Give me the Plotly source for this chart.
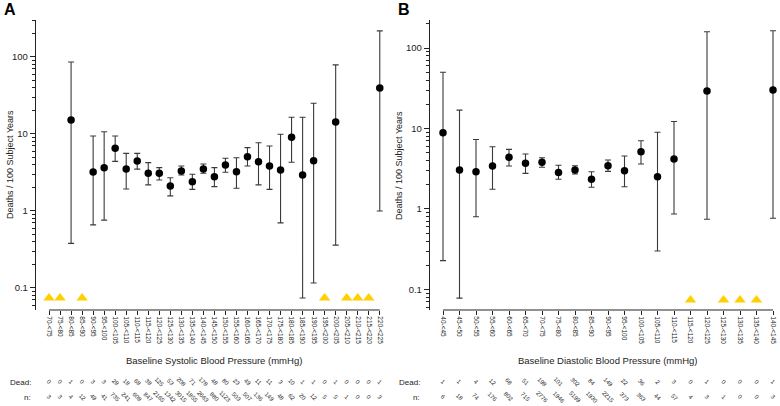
import plotly.graph_objects as go

# ---------------- data ----------------
cats_A = ["70-<75", "75-<80", "80-<85", "85-<90", "90-<95", "95-<100", "100-<105", "105-<110",
          "110-<115", "115-<120", "120-<125", "125-<130", "130-<135", "135-<140", "140-<145",
          "145-<150", "150-<155", "155-<160", "160-<165", "165-<170", "170-<175", "175-<180",
          "180-<185", "185-<190", "190-<195", "195-<200", "200-<205", "205-<210", "210-<215",
          "215-<220", "220-<225"]
dead_A = [0, 0, 1, 0, 3, 3, 28, 18, 68, 38, 125, 53, 208, 71, 178, 48, 80, 23, 49, 11, 11, 3, 10,
          1, 1, 0, 1, 0, 0, 0, 1]
n_A = [3, 3, 4, 12, 49, 41, 735, 241, 608, 847, 2165, 1342, 3015, 1855, 2663, 880, 1123, 503, 507,
       136, 149, 48, 62, 20, 12, 5, 5, 1, 0, 0, 3]
rate_A = [None, None, 15.2, None, 3.2, 3.65, 6.5, 3.5, 4.45, 3.09, 3.09, 2.11, 3.3, 2.4, 3.51, 2.79,
          3.96, 3.24, 5.07, 4.37, 3.84, 3.4, 9.06, 2.93, 4.5, None, 14.3, None, None, None, 39.6]
lo_A = [None, None, 0.38, None, 0.66, 0.76, 4.4, 1.93, 3.5, 2.18, 2.53, 1.57, 2.93, 1.91, 3.09, 2.07,
        3.18, 1.97, 3.84, 2.18, 1.91, 0.70, 4.29, 0.074, 0.116, None, 0.36, None, None, None, 1.0]
hi_A = [None, None, 86, None, 9.4, 10.7, 9.4, 5.6, 5.6, 4.24, 3.65, 2.7, 3.84, 3.0, 4.07, 3.65,
        4.83, 4.9, 6.64, 7.7, 6.98, 9.9, 16.5, 16.5, 25, None, 79, None, None, None, 218]

cats_B = ["40-<45", "45-<50", "50-<55", "55-<60", "60-<65", "65-<70", "70-<75", "75-<80", "80-<85",
          "85-<90", "90-<95", "95-<100", "100-<105", "105-<110", "110-<115", "115-<120", "120-<125",
          "125-<130", "130-<135", "135-<140", "140-<145"]
dead_B = [1, 1, 4, 12, 68, 51, 198, 101, 302, 84, 149, 22, 36, 2, 3, 0, 1, 0, 0, 0, 1]
n_B = [6, 18, 74, 176, 802, 715, 2776, 1946, 5199, 1930, 2215, 373, 363, 44, 57, 4, 3, 1, 0, 0, 3]
rate_B = [8.87, 3.05, 2.9, 3.42, 4.39, 3.7, 3.8, 2.85, 3.05, 2.34, 3.45, 2.99, 5.15, 2.52, 4.18,
          None, 29.2, None, None, None, 30.0]
lo_B = [0.228, 0.078, 0.80, 1.76, 3.42, 2.77, 3.3, 2.34, 2.72, 1.86, 2.93, 1.89, 3.62, 0.30, 0.867,
        None, 0.745, None, None, None, 0.766]
hi_B = [49.9, 16.9, 7.3, 5.94, 5.5, 4.82, 4.34, 3.49, 3.45, 2.9, 4.06, 4.55, 7.05, 8.97, 12.2,
        None, 159, None, None, None, 164]

ZERO_DEATH_MARK = 0.074  # value at which zero-death categories are flagged

y_major = [0.1, 1, 10, 100]
y_major_text = ["0.1", "1", "10", "100"]
y_minor = [m * 10 ** e for e in range(-2, 3) for m in range(2, 10)]

title_A = "Baseline Systolic Blood Pressure (mmHg)"
title_B = "Baseline Diastolic Blood Pressure (mmHg)"
ytitle = "Deaths / 100 Subject Years"

# ---------------- layout helpers ----------------
W, H = 780, 406
FONT = "Liberation Sans, Arial, Helvetica, sans-serif"
INK = "#222222"
BAR = "#3a3a3a"
GOLD = "#FFD000"


def px(x):
    return x / W


def py(y):
    return 1 - y / H


fig = go.Figure()

panels = [
    dict(cats=cats_A, dead=dead_A, n=n_A, rate=rate_A, lo=lo_A, hi=hi_A, xa="x", ya="y",
         xdom=[35.8, 393.0], xrange=[-1.2, 31.2], yrange=[-1.286, 2.48],
         title=title_A, title_x=214, label="A", label_x=2, ytitle_x=10, dead_x=33),
    dict(cats=cats_B, dead=dead_B, n=n_B, rate=rate_B, lo=lo_B, hi=hi_B, xa="x2", ya="y2",
         xdom=[429.8, 780.0], xrange=[-0.8, -0.8 + (780 - 429.8) / 16.5], yrange=[-1.255, 2.348],
         title=title_B, title_x=608, label="B", label_x=396, ytitle_x=399, dead_x=422),
]

annotations = []
shapes = []
for i, p in enumerate(panels):
    idx = [k for k, r in enumerate(p["rate"]) if r is not None]
    ys = [p["rate"][k] for k in idx]
    plus = [p["hi"][k] - p["rate"][k] for k in idx]
    minus = [p["rate"][k] - p["lo"][k] for k in idx]
    fig.add_trace(go.Scatter(
        x=idx, y=ys, mode="markers", xaxis=p["xa"], yaxis=p["ya"],
        marker=dict(color="black", size=7.5),
        error_y=dict(type="data", symmetric=False, array=plus, arrayminus=minus,
                     color=BAR, thickness=1.1, width=3),
        showlegend=False, cliponaxis=False, hoverinfo="skip"))
    zero_idx = [k for k, d in enumerate(p["dead"]) if d == 0]
    fig.add_trace(go.Scatter(
        x=zero_idx, y=[ZERO_DEATH_MARK] * len(zero_idx), mode="markers",
        xaxis=p["xa"], yaxis=p["ya"],
        marker=dict(symbol="triangle-up", color=GOLD, size=10, line=dict(width=0)),
        showlegend=False, cliponaxis=False, hoverinfo="skip"))

    sfx = "" if i == 0 else "2"
    fig.update_layout(**{
        "xaxis" + sfx: dict(
            domain=[px(p["xdom"][0]), px(p["xdom"][1])], range=p["xrange"],
            anchor="y" + sfx, tickmode="array", tickvals=list(range(len(p["cats"]))),
            ticktext=[c.replace("<", "&lt;") for c in p["cats"]],
            tickangle=90, ticks="outside", ticklen=4, tickcolor=INK, tickwidth=1,
            showline=False, showgrid=False, zeroline=False,
            tickfont=dict(family=FONT, size=6.5, color=INK)),
        "yaxis" + sfx: dict(
            domain=[py(310), py(20)], type="log", range=p["yrange"],
            anchor="x" + sfx, tickmode="array", tickvals=y_major, ticktext=y_major_text,
            ticks="outside", ticklen=5, tickcolor=INK, tickwidth=1,
            minor=dict(tickmode="array", tickvals=y_minor, ticks="outside", ticklen=2.5,
                       tickcolor=INK, tickwidth=1, showgrid=False),
            showline=True, linecolor=INK, linewidth=1, showgrid=False, zeroline=False,
            tickfont=dict(family=FONT, size=9.5, color=INK)),
    })
    shapes.append(dict(type="line", xref=p["xa"], yref=p["ya"] + " domain",
                       x0=0, x1=len(p["cats"]) - 1, y0=0, y1=0,
                       line=dict(color=INK, width=1)))
    annotations.append(dict(text=p["title"], xref="paper", yref="paper",
                            x=px(p["title_x"]), y=py(360),
                            showarrow=False, xanchor="center", yanchor="middle",
                            font=dict(family=FONT, size=9.5, color=INK)))
    annotations.append(dict(text=ytitle, xref="paper", yref="paper",
                            x=px(p["ytitle_x"]), y=py(165), textangle=-90,
                            showarrow=False, xanchor="center", yanchor="middle",
                            font=dict(family=FONT, size=9, color=INK)))
    annotations.append(dict(text="<b>" + p["label"] + "</b>", xref="paper", yref="paper",
                            x=px(p["label_x"]), y=py(-1), showarrow=False,
                            xanchor="left", yanchor="top",
                            font=dict(family=FONT, size=16, color="black")))
    annotations.append(dict(text="Dead:", xref="paper", yref="paper", x=px(p["dead_x"]),
                            y=py(382), showarrow=False, xanchor="right", yanchor="middle",
                            font=dict(family=FONT, size=8, color=INK)))
    annotations.append(dict(text="n:", xref="paper", yref="paper", x=px(p["dead_x"]),
                            y=py(397), showarrow=False, xanchor="right", yanchor="middle",
                            font=dict(family=FONT, size=8, color=INK)))
    for k, (d, nn) in enumerate(zip(p["dead"], p["n"])):
        annotations.append(dict(text=str(d), xref=p["xa"], yref="paper", x=k, y=py(382),
                                textangle=45, showarrow=False, xanchor="center", yanchor="middle",
                                font=dict(family=FONT, size=6, color=INK)))
        annotations.append(dict(text=str(nn), xref=p["xa"], yref="paper", x=k, y=py(397),
                                textangle=45, showarrow=False, xanchor="center", yanchor="middle",
                                font=dict(family=FONT, size=6, color=INK)))

fig.update_layout(width=W, height=H, margin=dict(l=0, r=0, t=0, b=0),
                  paper_bgcolor="white", plot_bgcolor="white",
                  annotations=annotations, shapes=shapes, hovermode=False,
                  font=dict(family=FONT, color=INK))

fig.write_html("out.html", config={"displayModeBar": False, "staticPlot": True},
               post_script="document.body.style.margin='0px';"
                           "document.body.style.overflow='hidden';")
